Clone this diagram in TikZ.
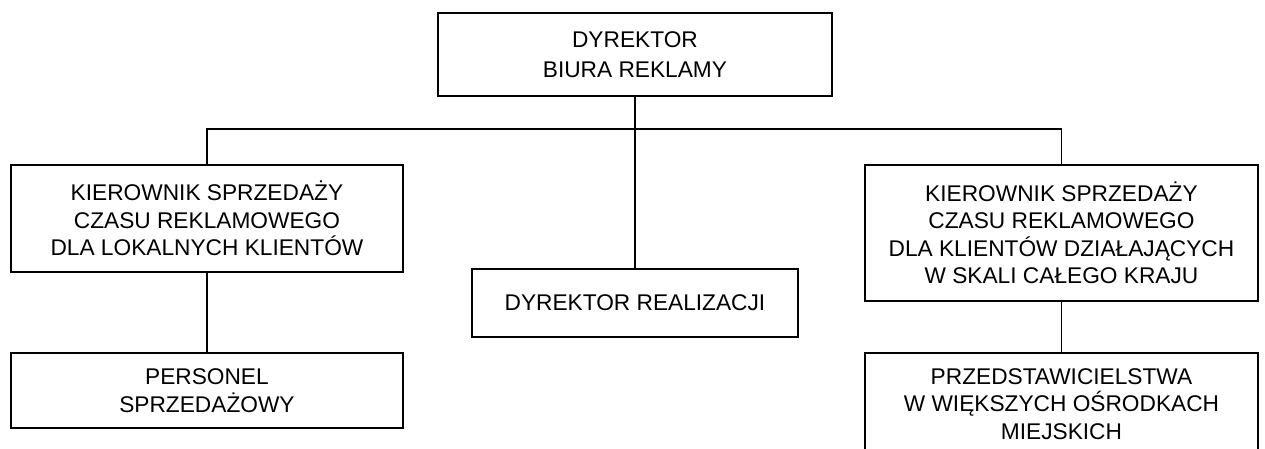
\documentclass[tikz,border=0pt]{standalone}
\usepackage{fontspec}
\newfontfamily\chartfont{Liberation Sans}
\begin{document}
\begin{tikzpicture}[x=1pt,y=-1pt,
  box/.style={draw, line width=1.9pt, inner sep=0pt, align=center,
    anchor=north west, font=\chartfont\fontsize{22.7}{27.5}\selectfont},
  link/.style={line width=1.9pt}]
  \useasboundingbox (0,0) rectangle (1265,449);
  \clip (0,0) rectangle (1265,449);

  % top of the hierarchy
  \node[box, minimum width=394pt, minimum height=83pt,
        font=\chartfont\fontsize{22.7}{30}\selectfont] (top) at (437,12)
        {DYREKTOR\\BIURA REKLAMY};

  % second level
  \node[box, minimum width=392pt, minimum height=107pt] (lk) at (10,164)
        {KIEROWNIK SPRZEDAŻY\\CZASU REKLAMOWEGO\\DLA LOKALNYCH KLIENTÓW};
  \node[box, minimum width=326pt, minimum height=68pt] (dr) at (471,268)
        {DYREKTOR REALIZACJI};
  \node[box, minimum width=393pt, minimum height=136pt] (rk) at (864,164)
        {KIEROWNIK SPRZEDAŻY\\CZASU REKLAMOWEGO\\DLA KLIENTÓW DZIAŁAJĄCYCH\\W SKALI CAŁEGO KRAJU};

  % third level (the right box runs past the lower edge)
  \node[box, minimum width=392pt, minimum height=75pt] (ps) at (10,352)
        {PERSONEL\\SPRZEDAŻOWY};
  \node[box, minimum width=393pt, minimum height=102pt] (pw) at (864,352)
        {PRZEDSTAWICIELSTWA\\W WIĘKSZYCH OŚRODKACH\\MIEJSKICH};

  % connectors
  \coordinate (bus) at (634,129);
  \draw[link] (top.south) -- (dr.north);
  \draw[link] (lk.north) |- (bus) -| (rk.north);
  \draw[link] (lk.south) -- (ps.north);
  \draw[link] (rk.south) -- (pw.north);
\end{tikzpicture}
\end{document}
